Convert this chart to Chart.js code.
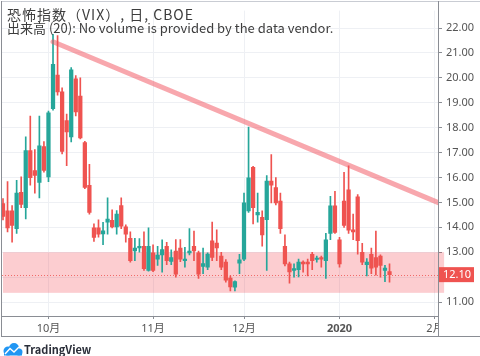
<!DOCTYPE html>
<html><head><meta charset="utf-8">
<script src="https://cdn.jsdelivr.net/npm/chart.js@4.4.1/dist/chart.umd.min.js"></script>
<style>html,body{margin:0;padding:0;background:#fff;overflow:hidden}#wrap{width:480px;height:356px;position:relative}</style>
</head><body><div id="wrap"><canvas id="c" width="480" height="356"></canvas></div>
<script>
// ---- data ----
const dates = [
 '2019-09-17','2019-09-18','2019-09-19','2019-09-20','2019-09-23','2019-09-24','2019-09-25','2019-09-26','2019-09-27','2019-09-30',
 '2019-10-01','2019-10-02','2019-10-03','2019-10-04','2019-10-07','2019-10-08','2019-10-09','2019-10-10','2019-10-11','2019-10-14',
 '2019-10-15','2019-10-16','2019-10-17','2019-10-18','2019-10-21','2019-10-22','2019-10-23','2019-10-24','2019-10-25','2019-10-28',
 '2019-10-29','2019-10-30','2019-10-31','2019-11-01','2019-11-04','2019-11-05','2019-11-06','2019-11-07','2019-11-08','2019-11-11',
 '2019-11-12','2019-11-13','2019-11-14','2019-11-15','2019-11-18','2019-11-19','2019-11-20','2019-11-21','2019-11-22','2019-11-25',
 '2019-11-26','2019-11-27','2019-11-29','2019-12-02','2019-12-03','2019-12-04','2019-12-05','2019-12-06','2019-12-09','2019-12-10',
 '2019-12-11','2019-12-12','2019-12-13','2019-12-16','2019-12-17','2019-12-18','2019-12-19','2019-12-20','2019-12-23','2019-12-24',
 '2019-12-26','2019-12-27','2019-12-30','2019-12-31','2020-01-02','2020-01-03','2020-01-06','2020-01-07','2020-01-08','2020-01-09',
 '2020-01-10','2020-01-13','2020-01-14','2020-01-15','2020-01-16','2020-01-17'
];
const futureDates = ['2020-01-21','2020-01-22','2020-01-23','2020-01-24','2020-01-27','2020-01-28','2020-01-29','2020-01-30','2020-01-31','2020-02-03','2020-02-04','2020-02-05'];
const openV = [
 14.95,14.66,14.66,13.95,15.40,14.79,17.08,16.28,15.80,17.24,
 16.02,18.76,20.11,19.44,18.28,17.63,19.96,19.27,17.40,15.69,
 13.98,13.98,13.74,14.21,14.28,14.02,14.87,14.02,13.56,13.05,
 13.17,13.24,12.27,12.98,12.72,12.89,13.24,12.63,13.05,13.17,
 12.66,12.97,13.24,12.98,12.43,12.40,13.46,13.37,12.85,12.60,
 11.96,11.60,12.56,12.72,14.66,16.41,14.50,14.40,14.31,15.86,
 15.60,15.05,13.24,12.53,12.27,12.30,12.60,12.60,12.92,12.71,
 12.79,12.66,13.76,14.86,13.50,15.05,15.50,13.90,15.22,13.00,
 12.50,12.92,12.79,12.85,12.27,12.22
];
const highV = [
 15.15,15.84,14.87,15.89,16.03,17.63,18.47,17.12,18.47,17.44,
 18.67,21.75,21.70,19.60,18.55,20.41,20.09,20.00,17.45,16.53,
 14.14,14.30,14.20,15.18,14.70,14.67,15.18,14.10,13.82,13.56,
 13.55,13.82,13.98,13.30,13.24,13.50,13.40,13.10,13.51,13.51,
 13.20,13.95,13.85,13.05,13.17,12.98,14.21,13.90,13.00,12.70,
 12.05,11.85,12.92,15.37,18.02,16.45,15.37,14.66,16.08,16.92,
 16.00,15.37,13.70,12.60,12.53,12.72,12.65,12.72,13.00,12.85,
 12.85,13.76,15.24,15.44,13.60,16.21,16.47,14.53,15.31,13.36,
 12.75,13.17,13.85,12.90,12.47,12.53
];
const lowV = [
 14.30,13.82,13.40,13.76,14.79,14.34,15.69,15.37,15.18,16.21,
 15.83,18.70,19.30,16.95,16.47,17.43,18.47,17.55,15.55,14.53,
 13.43,13.60,13.30,13.72,13.98,13.72,13.95,13.40,12.60,12.66,
 13.00,12.27,12.24,12.22,12.47,12.20,12.50,12.50,12.00,12.62,
 12.40,12.89,12.66,11.95,12.14,12.30,12.66,12.66,12.30,11.80,
 11.45,11.45,12.14,12.66,14.60,14.14,14.21,13.24,12.27,14.98,
 14.90,13.76,12.45,11.76,12.00,12.01,12.20,12.05,12.30,12.60,
 12.40,11.95,13.50,13.76,12.40,14.00,13.76,13.50,12.92,12.50,
 12.05,12.14,12.08,12.00,11.82,11.80
];
const closeV = [
 14.44,13.98,14.08,15.37,14.92,17.08,15.99,16.08,17.27,16.28,
 18.60,20.54,19.44,17.05,17.83,20.32,18.63,17.59,15.60,14.60,
 13.59,13.72,13.86,14.33,14.02,14.53,14.05,13.72,12.66,13.17,
 13.24,12.34,13.24,12.27,12.89,13.11,12.66,12.79,12.12,12.72,
 12.72,13.05,13.05,12.12,12.54,12.93,12.79,13.17,12.40,11.88,
 11.61,11.82,12.69,14.98,15.99,14.79,14.60,13.69,15.86,15.69,
 14.98,13.95,12.53,12.21,12.34,12.60,12.53,12.53,12.66,12.77,
 12.72,13.50,14.86,13.80,12.53,14.08,13.89,13.82,13.46,12.60,
 12.60,12.36,12.40,12.47,12.36,12.10
];
const tickDates = ['2019-10-01','2019-11-01','2019-12-02','2020-01-02','2020-02-03'];
const tickLabels = ['10月','11月','12月','2020','2月'];
const yTicks = [11,12,13,14,15,16,17,18,19,20,21,22];
const trendDates = ['2019-10-02','2020-02-04'];
const trendValues = [21.45, 14.97];
const zoneDates = ['2019-09-17','2020-02-05'];
const zoneValues = [13.0, 11.37];
const titleLine1 = '恐怖指数（VIX）, 日, CBOE';
const titleLine2 = '出来高 (20): No volume is provided by the data vendor.';

// ---- helpers ----
const allDates = dates.concat(futureDates);
const idx = d => allDates.indexOf(d);
const UP = '#26a69a', DOWN = '#ef5350';
const colors = closeV.map((c,i) => c >= openV[i] ? UP : DOWN);
const lastPrice = closeV[closeV.length-1];
const FONT = '"Noto Sans", "Noto Sans CJK JP", sans-serif';
Chart.defaults.font.family = FONT;
Chart.defaults.font.size = 11;

const zonePlugin = {
  id: 'zone',
  beforeDatasetsDraw(chart) {
    const {ctx, scales: {x, y}, chartArea: a} = chart;
    const x0 = x.getPixelForValue(idx(zoneDates[0]));
    const x1 = x.getPixelForValue(idx(zoneDates[1]));
    const y0 = y.getPixelForValue(zoneValues[0]);
    const y1 = y.getPixelForValue(zoneValues[1]);
    ctx.save();
    ctx.fillStyle = 'rgba(242,54,69,0.25)';
    ctx.fillRect(x0, y0, x1 - x0, y1 - y0);
    const py = Math.round(y.getPixelForValue(lastPrice)) + 0.5;
    ctx.strokeStyle = 'rgba(239,83,80,0.8)';
    ctx.lineWidth = 1;
    ctx.setLineDash([1, 2]);
    ctx.beginPath(); ctx.moveTo(a.left, py); ctx.lineTo(a.right, py); ctx.stroke();
    ctx.restore();
  }
};

const overlayPlugin = {
  id: 'overlay',
  afterDraw(chart) {
    const {ctx, scales: {y}, chartArea: a} = chart;
    ctx.save();
    ctx.fillStyle = '#fff';
    ctx.fillRect(a.right + 1, a.bottom + 1, 480 - a.right, 336 - a.bottom - 1);
    ctx.lineWidth = 1;
    ctx.strokeStyle = '#c9ccd3';
    ctx.beginPath(); ctx.moveTo(1, 1.5); ctx.lineTo(480, 1.5); ctx.stroke();
    ctx.strokeStyle = '#8a8d94';
    ctx.beginPath(); ctx.moveTo(1.5, 1); ctx.lineTo(1.5, 337); ctx.stroke();
    ctx.beginPath(); ctx.moveTo(1, 336.5); ctx.lineTo(480, 336.5); ctx.stroke();
    ctx.beginPath(); ctx.moveTo(a.right + 0.5, 1); ctx.lineTo(a.right + 0.5, 337); ctx.stroke();
    // last price label
    const py = y.getPixelForValue(lastPrice);
    ctx.fillStyle = '#ef5350';
    ctx.fillRect(a.right + 1, py - 7.5, 35, 15);
    ctx.fillStyle = '#fff';
    ctx.font = '11px ' + FONT;
    ctx.textBaseline = 'middle';
    ctx.fillText(lastPrice.toFixed(2), a.right + 5, py + 0.5);
    // title
    ctx.fillStyle = '#3d3d3d';
    ctx.textBaseline = 'alphabetic';
    ctx.font = '14px "Noto Sans CJK JP", "Noto Sans", sans-serif';
    if ('letterSpacing' in ctx) ctx.letterSpacing = '1px';
    ctx.fillText(titleLine1, 7, 20);
    if ('letterSpacing' in ctx) ctx.letterSpacing = '0px';
    ctx.font = '13px "Noto Sans CJK JP", "Noto Sans", sans-serif';
    ctx.fillText(titleLine2, 7, 33);
    // TradingView logo
    ctx.fillStyle = '#2196f3';
    ctx.beginPath();
    ctx.arc(8, 351, 4.5, 0, Math.PI * 2);
    ctx.arc(14, 348, 5, 0, Math.PI * 2);
    ctx.arc(19, 352, 3.5, 0, Math.PI * 2);
    ctx.fill();
    ctx.fillRect(4, 351, 18, 4.5);
    ctx.strokeStyle = '#fff';
    ctx.lineWidth = 1.4;
    ctx.beginPath(); ctx.moveTo(5, 354); ctx.lineTo(10, 348.5); ctx.lineTo(14, 352); ctx.lineTo(19, 347); ctx.stroke();
    ctx.fillStyle = '#2a2e39';
    ctx.font = '600 11px "Noto Sans CJK JP", sans-serif';
    ctx.fillText('TradingView', 24, 354);
    ctx.restore();
  }
};

new Chart(document.getElementById('c'), {
  type: 'bar',
  data: {
    datasets: [
      { type: 'line', data: trendDates.map((d, i) => ({x: idx(d), y: trendValues[i]})),
        borderColor: 'rgba(242,80,92,0.5)', borderWidth: 5, pointRadius: 0, order: 0, clip: 0, borderCapStyle: 'round' },
      { data: dates.map((d, i) => ({x: i, y: [lowV[i], highV[i]]})), backgroundColor: colors,
        barThickness: 1, grouped: false, order: 2 },
      { data: dates.map((d, i) => ({x: i, y: [openV[i], closeV[i]]})), backgroundColor: colors,
        barThickness: 3.6, grouped: false, minBarLength: 1, order: 1 }
    ]
  },
  options: {
    responsive: false, animation: false, events: [],
    layout: {padding: {left: 2, top: 2, right: 0, bottom: 20}},
    plugins: {legend: {display: false}, tooltip: {enabled: false}},
    scales: {
      x: {
        type: 'linear', offset: false, min: -0.22, max: 95.66,
        grid: {offset: false, color: '#eef0f4', tickColor: '#8a8d94', tickLength: 3},
        border: {display: true, color: '#8a8d94'},
        afterBuildTicks: s => { s.ticks = tickDates.map(d => ({value: idx(d)})); },
        afterFit: s => { s.height = 20; },
        ticks: {
          autoSkip: false, maxRotation: 0, color: '#555', padding: 3,
          font: c => ({size: 11, weight: (c.tick && c.tick.value === idx('2020-01-02')) ? 'bold' : 'normal'}),
          callback: v => tickLabels[tickDates.findIndex(d => idx(d) === v)]
        }
      },
      y: {
        position: 'right', min: 10.44, max: 22.70,
        grid: {color: '#eef0f4', tickColor: '#8a8d94', tickLength: 4},
        border: {display: true, color: '#8a8d94'},
        afterBuildTicks: s => { s.ticks = yTicks.map(v => ({value: v})); },
        afterFit: s => { s.width = 42; },
        ticks: {color: '#555', padding: 4, font: {size: 11}, callback: v => Number(v).toFixed(2)}
      }
    }
  },
  plugins: [zonePlugin, overlayPlugin]
});
</script>
</body></html>
